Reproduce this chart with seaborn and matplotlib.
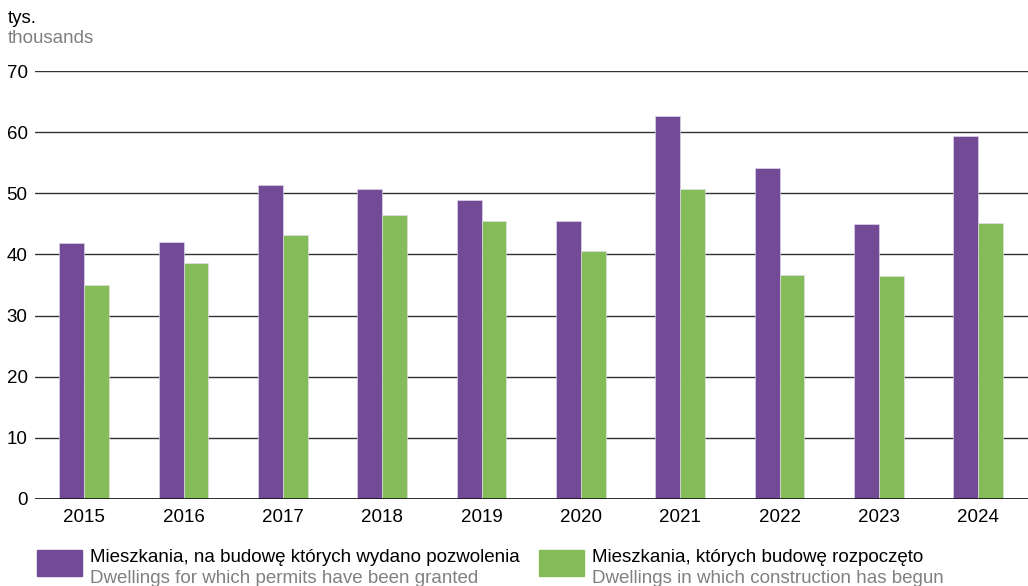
import pandas as pd
import matplotlib.pyplot as plt
import seaborn as sns
from matplotlib.patches import Rectangle

# ─────────────────────────────
#  DATA (tys. / thousands)
# ─────────────────────────────
years = ['2015', '2016', '2017', '2018', '2019', '2020', '2021', '2022', '2023', '2024']
permits = [41.8, 42.0, 51.3, 50.7, 48.9, 45.4, 62.7, 54.1, 44.9, 59.4]
started = [35.0, 38.6, 43.2, 46.5, 45.5, 40.6, 50.7, 36.6, 36.4, 45.1]

label_pl = ['Mieszkania, na budowę których wydano pozwolenia',
            'Mieszkania, których budowę rozpoczęto']
label_en = ['Dwellings for which permits have been granted',
            'Dwellings in which construction has begun']
yticks = [0, 10, 20, 30, 40, 50, 60, 70]

purple = '#724a96'
green = '#84bc5a'

df = pd.DataFrame({
    'year': years * 2,
    'value': permits + started,
    'series': [label_pl[0]] * len(years) + [label_pl[1]] * len(years),
})

# ─────────────────────────────
#  STYLE
# ─────────────────────────────
sns.set_style('white')
plt.rcParams['font.family'] = ['Liberation Sans', 'DejaVu Sans']
fs = 13.5

fig = plt.figure(figsize=(10.28, 5.86), dpi=100)
ax = fig.add_axes([0.0336, 0.1485, 0.9664, 0.7303])

sns.barplot(data=df, x='year', y='value', hue='series',
            palette=[purple, green], saturation=1, width=0.5, dodge=True,
            edgecolor='#e8e0f0', linewidth=0.4, legend=False,
            ax=ax, zorder=3)

ax.set_ylim(0, 70)
ax.set_xlim(-0.5, len(years) - 0.5)
ax.set_yticks(yticks)
ax.yaxis.grid(True, color='#333333', linewidth=1.0)
ax.set_axisbelow(True)
for s in ax.spines.values():
    s.set_visible(False)
ax.axhline(0, color='#111111', linewidth=1.2, zorder=4)
ax.tick_params(axis='both', length=0, labelsize=fs, colors='#000000')
ax.tick_params(axis='y', pad=5)
ax.tick_params(axis='x', pad=7)
ax.set_xlabel('')
ax.set_ylabel('')

# unit labels
fig.text(0.008, 0.968, 'tys.', fontsize=fs, color='#000000', va='center')
fig.text(0.008, 0.935, 'thousands', fontsize=fs, color='#808080', va='center')

# ─────────────────────────────
#  LEGEND (two-line, bilingual)
# ─────────────────────────────
colors = [purple, green]
xs = [0.036, 0.524]
for x0, c, pl, en in zip(xs, colors, label_pl, label_en):
    fig.patches.append(Rectangle((x0, 0.017), 0.044, 0.045,
                                 transform=fig.transFigure, color=c))
    fig.text(x0 + 0.052, 0.048, pl, fontsize=fs, color='#000000', va='center')
    fig.text(x0 + 0.052, 0.013, en, fontsize=fs, color='#808080', va='center')

plt.savefig('out.png', dpi=100, facecolor='white')
